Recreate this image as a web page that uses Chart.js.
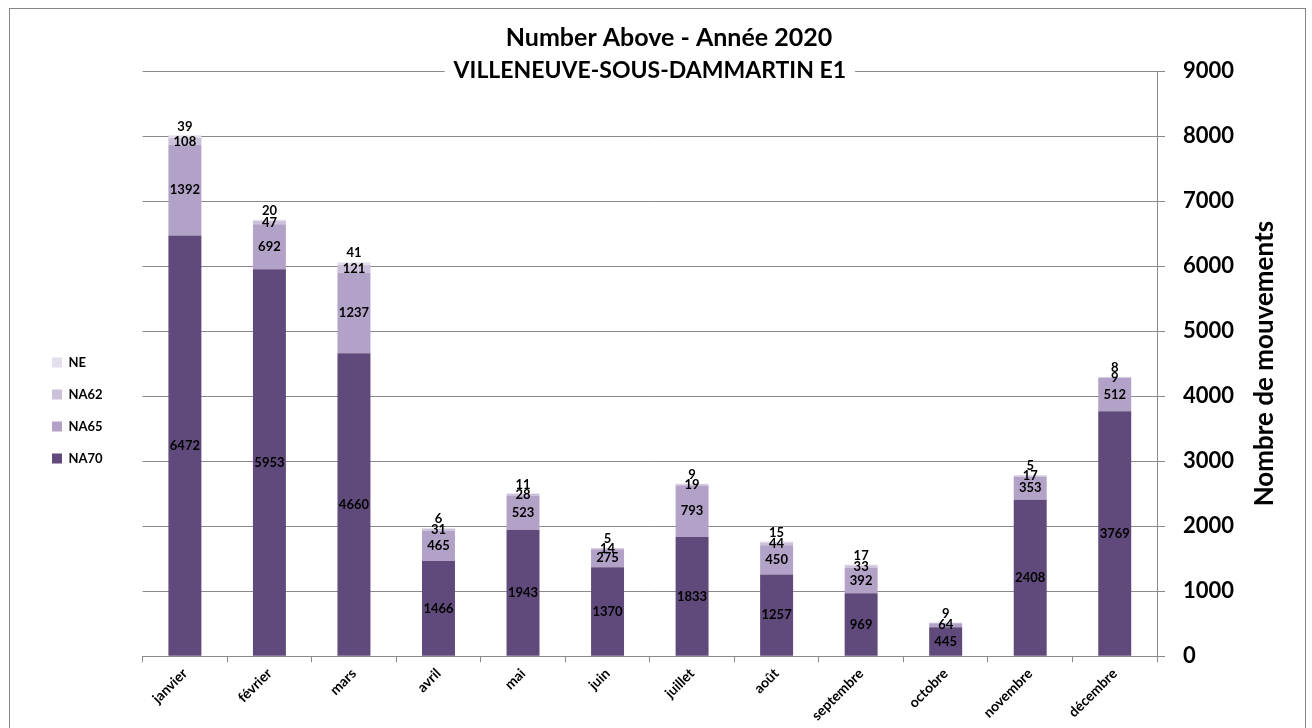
<html lang="fr">
<head>
<meta charset="UTF-8">
<title>Number Above - Année 2020</title>
<script src="https://cdn.jsdelivr.net/npm/chart.js@4.4.0/dist/chart.umd.min.js"></script>
<style>
  body { margin: 0; background: #fff; overflow: hidden; }
  #frame { position: absolute; left: 9px; top: 8px; width: 1295px; height: 740px; border: 1px solid #868686; }
</style>
</head>
<body>
<div id="frame"><canvas id="myChart" width="1295" height="720"></canvas></div>
<script>
var months = ["janvier", "février", "mars", "avril", "mai", "juin", "juillet", "août", "septembre", "octobre", "novembre", "décembre"];
var na70 = [6472, 5953, 4660, 1466, 1943, 1370, 1833, 1257, 969, 445, 2408, 3769];
var na65 = [1392, 692, 1237, 465, 523, 275, 793, 450, 392, 64, 353, 512];
var na62 = [108, 47, 121, 31, 28, 14, 19, 44, 33, null, 17, 9];
var ne = [39, 20, 41, 6, 11, 5, 9, 15, 17, 9, 5, 8];
var yTicks = [0, 1000, 2000, 3000, 4000, 5000, 6000, 7000, 8000, 9000];

var font = "Lato";
var gridGray = "#8a8a8a";

// value labels in the middle of each segment, NE above the stack
var segLabels = {
  id: "segLabels",
  afterDatasetsDraw(chart) {
    var ctx = chart.ctx;
    ctx.save();
    ctx.font = "bold 13px " + font;
    ctx.fillStyle = "#000";
    ctx.textAlign = "center";
    ctx.textBaseline = "middle";
    chart.data.datasets.forEach((ds, i) => {
      var meta = chart.getDatasetMeta(i);
      meta.data.forEach((bar, j) => {
        var v = ds.data[j];
        if (v == null) return;
        var y = (bar.y + bar.base) / 2;
        if (ds.label == "NE") y = bar.y - 9;
        ctx.fillText(String(v), bar.x, y);
      });
    });
    ctx.restore();
  }
};

// second title line on the top grid line + axis title reading upwards
var extraText = {
  id: "extraText",
  afterDraw(chart) {
    var ctx = chart.ctx;
    var area = chart.chartArea;
    var txt = "VILLENEUVE-SOUS-DAMMARTIN E1";
    var y = chart.scales.y.getPixelForValue(9000);
    var cx = (area.left + area.right) / 2;
    ctx.save();
    ctx.font = "bold 23px " + font;
    var w = ctx.measureText(txt).width;
    ctx.fillStyle = "#fff";
    ctx.fillRect(cx - w / 2 - 9, y - 13, w + 18, 26);
    ctx.fillStyle = "#000";
    ctx.textAlign = "center";
    ctx.textBaseline = "middle";
    ctx.fillText(txt, cx, y);

    ctx.translate(area.right + 108, (area.top + area.bottom) / 2);
    ctx.rotate(-Math.PI / 2);
    ctx.font = "bold 26px " + font;
    ctx.fillText("Nombre de mouvements", 0, 0);
    ctx.restore();
  }
};

new Chart("myChart", {
  type: "bar",
  data: {
    labels: months,
    datasets: [
      { label: "NA70", data: na70, backgroundColor: "#604a7b" },
      { label: "NA65", data: na65, backgroundColor: "#b3a2c7" },
      { label: "NA62", data: na62, backgroundColor: "#ccc1da" },
      { label: "NE", data: ne, backgroundColor: "#e4dfec" }
    ]
  },
  plugins: [segLabels, extraText],
  options: {
    responsive: false,
    animation: false,
    layout: { padding: { left: 23, right: 0, top: 0, bottom: 2 } },
    datasets: { bar: { categoryPercentage: 1, barPercentage: 0.39 } },
    plugins: {
      tooltip: { enabled: false },
      title: {
        display: true,
        text: "Number Above - Année 2020",
        color: "#000",
        font: { family: font, size: 25, weight: "bold" },
        padding: { top: 14, bottom: 18 }
      },
      legend: {
        position: "left",
        reverse: true,
        align: "start",
        title: { display: true, text: " ", font: { size: 10 }, padding: { top: 0, bottom: 316 } },
        labels: {
          boxWidth: 10,
          boxHeight: 10,
          padding: 19,
          color: "#000",
          font: { family: font, size: 13, weight: "bold" }
        }
      }
    },
    scales: {
      x: {
        stacked: true,
        grid: { drawOnChartArea: false, offset: true, tickLength: 6, color: gridGray },
        border: { color: gridGray },
        ticks: {
          minRotation: 45,
          maxRotation: 45,
          color: "#000",
          font: { family: font, size: 14, weight: "bold" }
        }
      },
      y: {
        stacked: true,
        position: "right",
        min: 0,
        max: 9000,
        afterBuildTicks(s) { s.ticks = yTicks.map(v => ({ value: v })); },
        afterFit(s) { s.width = 148; },
        grid: { color: gridGray, tickLength: 8 },
        border: { color: gridGray },
        ticks: {
          padding: 18,
          color: "#000",
          font: { family: font, size: 22, weight: "bold" },
          callback: v => String(v)
        }
      },
      pad: {
        position: "left",
        grid: { display: false },
        border: { display: false },
        ticks: { display: false },
        afterFit(s) { s.width = 30; }
      }
    }
  }
});
</script>
</body>
</html>
